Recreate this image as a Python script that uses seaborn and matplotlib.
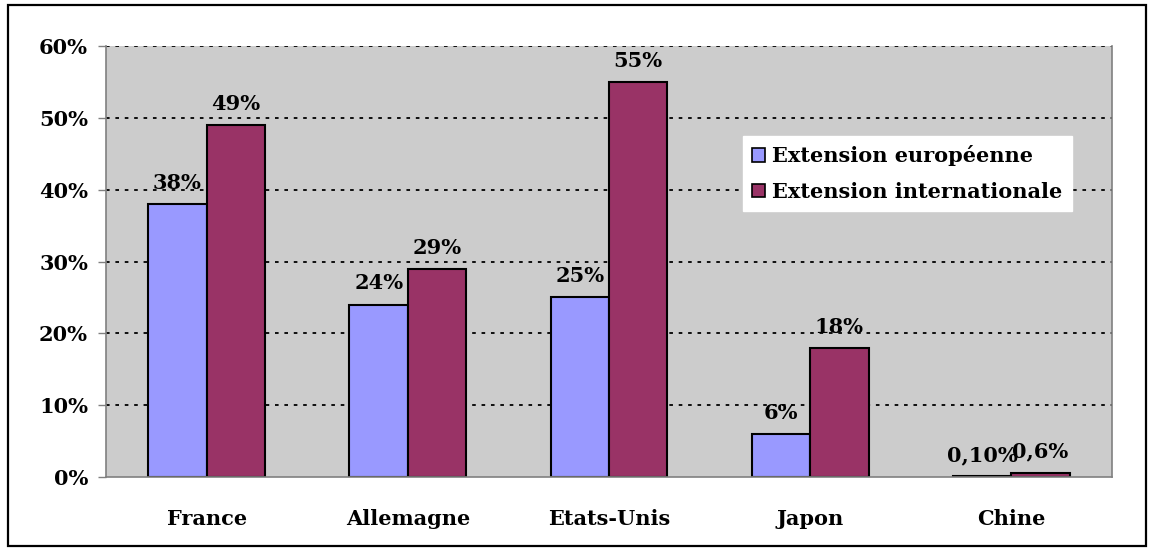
import matplotlib
matplotlib.use("Agg")
import matplotlib.pyplot as plt
import seaborn as sns
import pandas as pd
from matplotlib.patches import Rectangle, Patch
from matplotlib.ticker import FixedLocator

categories = ["France", "Allemagne", "Etats-Unis", "Japon", "Chine"]
series_names = ["Extension européenne", "Extension internationale"]
europe = [0.38, 0.24, 0.25, 0.06, 0.001]
international = [0.49, 0.29, 0.55, 0.18, 0.006]
europe_labels = ["38%", "24%", "25%", "6%", "0,10%"]
international_labels = ["49%", "29%", "55%", "18%", "0,6%"]
ytick_values = [0, 0.1, 0.2, 0.3, 0.4, 0.5, 0.6]
ytick_labels = ["0%", "10%", "20%", "30%", "40%", "50%", "60%"]

colors = ["#9999FF", "#993366"]

df = pd.DataFrame({
    "cat": categories * 2,
    "serie": [series_names[0]] * 5 + [series_names[1]] * 5,
    "val": europe + international,
})

sns.set_style("white")
plt.rcParams["font.family"] = ["DejaVu Serif"]
plt.rcParams["font.weight"] = "bold"
plt.rcParams["text.color"] = "black"
plt.rcParams["xtick.labelcolor"] = "black"
plt.rcParams["ytick.labelcolor"] = "black"
FS = 15

fig = plt.figure(figsize=(11.54, 5.51), dpi=100)
ax = fig.add_axes([106 / 1154, 74 / 551, (1112 - 106) / 1154, (477 - 46) / 551])

sns.barplot(data=df, x="cat", y="val", hue="serie", palette=colors, width=0.58,
            gap=0, edgecolor="black", linewidth=1.5, ax=ax, legend=False, saturation=1)

ax.set_facecolor("#CCCCCC")
ax.set_ylim(0, 0.6)
ax.set_xlim(-0.5, 4.5)
ax.set_yticks(ytick_values)
ax.set_yticklabels(ytick_labels, fontsize=FS, fontweight="bold", color="black")
ax.set_xticks(range(len(categories)))
ax.set_xticklabels(categories, fontsize=FS, fontweight="bold", color="black")
ax.xaxis.set_minor_locator(FixedLocator([-0.5, 0.5, 1.5, 2.5, 3.5, 4.5]))
ax.tick_params(axis="x", which="major", length=0, pad=23)
ax.tick_params(axis="x", which="minor", length=6, width=1, color="#808080", direction="out")
ax.tick_params(axis="y", length=6, width=1, color="#808080", direction="out", pad=7, left=True)
ax.set_xlabel("")
ax.set_ylabel("")
for y in ytick_values[1:]:
    ax.axhline(y, color="black", linestyle=(0, (2.0, 3.2)), linewidth=1.3, zorder=0.5)
for s in ["left", "bottom", "right"]:
    ax.spines[s].set_color("#808080")
    ax.spines[s].set_linewidth(1.2)
ax.spines["top"].set_visible(False)

for cont, labs in zip(ax.containers, [europe_labels, international_labels]):
    ax.bar_label(cont, labels=labs, padding=8, fontsize=FS, fontweight="bold", color="black")

handles = [Patch(facecolor=c, edgecolor="black", linewidth=1.2) for c in colors]
leg = fig.legend(handles, series_names, loc="upper left",
                 bbox_to_anchor=(743 / 1154, 1 - 136 / 551), frameon=True,
                 fancybox=False, edgecolor="white", facecolor="white", framealpha=1,
                 prop={"size": FS, "weight": "bold"}, handlelength=0.6, handleheight=0.6,
                 handletextpad=0.35, borderpad=0.45, labelspacing=0.75, borderaxespad=0,
                 labelcolor="black")

fig.patches.append(Rectangle((8 / 1154, 5 / 551), (1146 - 8) / 1154, (546 - 5) / 551,
                             transform=fig.transFigure, fill=False, edgecolor="black",
                             linewidth=1.6))

fig.savefig("out.png", dpi=100)
